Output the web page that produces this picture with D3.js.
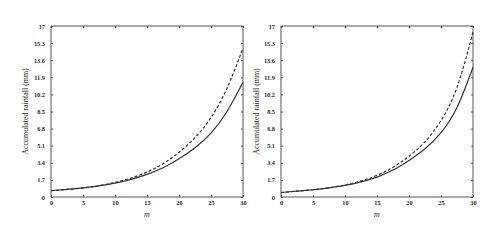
<!DOCTYPE html>
<meta charset="utf-8">
<style>
	body { margin: 0; background: #fff; }
	.axis text { font: bold 6.3px "Liberation Serif", serif; fill: #2a2a2a; }
	.ylabel { font: 7.9px "Liberation Serif", serif; fill: #2a2a2a; text-anchor: middle; }
	.xlabel { font: italic 8px "Liberation Serif", serif; fill: #2a2a2a; text-anchor: middle; }
	.frame { fill: none; stroke: #555; stroke-width: 1; }
	.curve { fill: none; stroke: #333; stroke-width: 1.2; }
</style>
<body>
<script src="https://d3js.org/d3.v7.min.js"></script>
<script>

	var m = [0, 2.5, 5, 7.5, 10, 12.5, 15, 17.5, 20, 22.5, 25, 27.5, 30];

	// left panel
	var leftSolid  = [0.62, 0.75, 0.9, 1.1, 1.38, 1.75, 2.25, 2.9, 3.8, 4.9, 6.35, 8.5, 11.4];
	var leftDashed = [0.62, 0.75, 0.9, 1.12, 1.45, 1.88, 2.48, 3.3, 4.45, 5.9, 7.9, 10.8, 14.8];

	// right panel
	var rightSolid  = [0.45, 0.58, 0.72, 0.9, 1.15, 1.5, 1.98, 2.68, 3.64, 4.8, 6.4, 8.9, 12.9];
	var rightDashed = [0.45, 0.58, 0.72, 0.92, 1.2, 1.6, 2.15, 2.95, 4.05, 5.5, 7.6, 10.9, 16.4];

	var xTicks = [0, 5, 10, 15, 20, 25, 30];
	var yTicks = [0, 1.7, 3.4, 5.1, 6.8, 8.5, 10.2, 11.9, 13.6, 15.3, 17];

	var width = 500,
		height = 241;

	var svg = d3.select("body").append("svg")
		.attr("width", width)
		.attr("height", height);

	var panels = [
		{left: 51, solid: leftSolid, dashed: leftDashed, labelX: 25},
		{left: 281, solid: rightSolid, dashed: rightDashed, labelX: 256}
	];

	var plotTop = 26, plotBottom = 197, plotW = 192;

	panels.forEach(function(p) {
		var x = d3.scaleLinear().domain([0, 30]).range([p.left, p.left + plotW]);
		var y = d3.scaleLinear().domain([0, 17]).range([plotBottom, plotTop]);

		var g = svg.append("g");

		// ticks on all four sides, pointing inward
		g.append("g").attr("class", "axis")
			.attr("transform", "translate(0," + plotBottom + ")")
			.call(d3.axisBottom(x).tickValues(xTicks).tickSize(-2).tickPadding(4).tickFormat(d3.format("d")))
			.call(function(a) { a.select(".domain").remove(); });
		g.append("g").attr("class", "axis")
			.attr("transform", "translate(0," + plotTop + ")")
			.call(d3.axisTop(x).tickValues(xTicks).tickSize(-2).tickFormat(""))
			.call(function(a) { a.select(".domain").remove(); });
		g.append("g").attr("class", "axis")
			.attr("transform", "translate(" + p.left + ",0)")
			.call(d3.axisLeft(y).tickValues(yTicks).tickSize(-2).tickPadding(6).tickFormat(function(d) { return d; }))
			.call(function(a) { a.select(".domain").remove(); });
		g.append("g").attr("class", "axis")
			.attr("transform", "translate(" + (p.left + plotW) + ",0)")
			.call(d3.axisRight(y).tickValues(yTicks).tickSize(-2).tickFormat(""))
			.call(function(a) { a.select(".domain").remove(); });

		g.selectAll(".tick line").attr("stroke", "#555");

		g.append("rect").attr("class", "frame")
			.attr("x", p.left).attr("y", plotTop)
			.attr("width", plotW).attr("height", plotBottom - plotTop);

		var line = function(vals) {
			return d3.line()
				.x(function(d, i) { return x(m[i]); })
				.y(function(d) { return y(d); })
				.curve(d3.curveNatural)(vals);
		};

		g.append("path").attr("class", "curve").attr("d", line(p.solid));
		g.append("path").attr("class", "curve").attr("d", line(p.dashed))
			.attr("stroke-dasharray", "3,2");

		g.append("text").attr("class", "ylabel")
			.attr("transform", "translate(" + p.labelX + "," + ((plotTop + plotBottom) / 2) + ") rotate(-90)")
			.attr("dy", "0.35em")
			.text("Accumulated rainfall (mm)");

		g.append("text").attr("class", "xlabel")
			.attr("x", p.left + plotW / 2)
			.attr("y", 217)
			.text("m");
	});
</script>
